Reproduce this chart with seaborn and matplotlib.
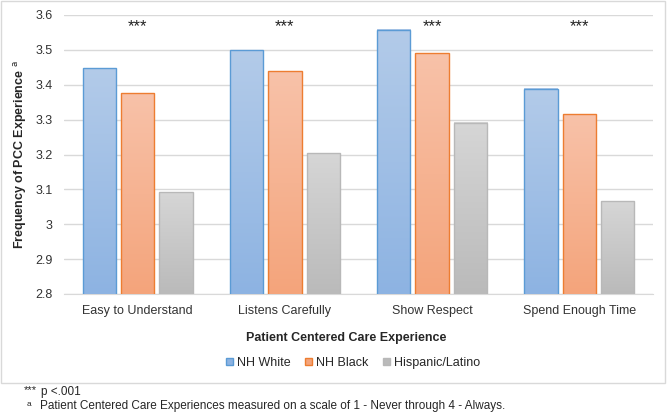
import numpy as np
import pandas as pd
import matplotlib
matplotlib.use("Agg")
import matplotlib.pyplot as plt
import seaborn as sns
from matplotlib.colors import LinearSegmentedColormap
from matplotlib.patches import Rectangle

# data
categories = ["Easy to Understand", "Listens Carefully", "Show Respect", "Spend Enough Time"]
groups = ["NH White", "NH Black", "Hispanic/Latino"]
nh_white = [3.447, 3.499, 3.558, 3.389]
nh_black = [3.375, 3.438, 3.490, 3.316]
hispanic = [3.092, 3.203, 3.291, 3.066]
stars = ["***", "***", "***", "***"]

df = pd.DataFrame({
    "Experience": categories * 3,
    "Group": [g for g in groups for _ in categories],
    "Score": nh_white + nh_black + hispanic,
})

# gradient (top, bottom) and edge colours per group
fills = {"NH White": ("#b3cbe9", "#8db3e2"),
         "NH Black": ("#f8c2a9", "#f4a47b"),
         "Hispanic/Latino": ("#d6d6d6", "#bababa")}
edges = {"NH White": "#5b9bd5", "NH Black": "#ed7d31", "Hispanic/Latino": "#b8b8b8"}

sns.set_style("white")
plt.rcParams["font.family"] = ["Liberation Sans", "DejaVu Sans"]

fig = plt.figure(figsize=(6.69, 4.16), dpi=100)
ax = fig.add_axes([64 / 669, 1 - 294 / 416, 589 / 669, 279 / 416])

sns.barplot(data=df, x="Experience", y="Score", hue="Group", hue_order=groups,
            palette=[edges[g] for g in groups], width=0.78, gap=0.13,
            ax=ax, legend=False)

ymin, ymax = 2.8, 3.6
ax.set_yticks(np.arange(2.8, 3.61, 0.1))
ax.set_yticklabels(["2.8", "2.9", "3", "3.1", "3.2", "3.3", "3.4", "3.5", "3.6"])

# paint each bar with a vertical gradient over its visible part
for container, g in zip(ax.containers, groups):
    cmap = LinearSegmentedColormap.from_list(g, [fills[g][1], fills[g][0]])
    for bar in container:
        x0, w = bar.get_x(), bar.get_width()
        top = bar.get_y() + bar.get_height()
        bar.set_facecolor("none")
        bar.set_edgecolor(edges[g])
        bar.set_linewidth(1.0)
        bar.set_zorder(4)
        grad = np.linspace(0, 1, 256).reshape(-1, 1)
        ax.imshow(grad, cmap=cmap, aspect="auto", origin="lower",
                  extent=[x0, x0 + w, ymin, top], zorder=3)

ax.set_xlim(-0.5, 3.5)
ax.set_ylim(ymin, ymax)

ax.yaxis.grid(True, color="#d9d9d9", linewidth=1)
ax.set_axisbelow(True)
for s in ["top", "right", "left"]:
    ax.spines[s].set_visible(False)
ax.spines["bottom"].set_color("#d9d9d9")
ax.tick_params(axis="both", length=0, labelsize=9, colors="#333333", pad=8)

for i, s in enumerate(stars):
    ax.text(i, 3.567, s, ha="center", va="center", fontsize=12, color="#222222")

ax.set_xlabel("")
fig.text(346 / 669, 1 - 338 / 416, "Patient Centered Care Experience", fontsize=9,
         fontweight="bold", ha="center", va="center")
ax.set_ylabel("Frequency of PCC Experience $^{\\mathrm{a}}$", fontsize=9,
              fontweight="bold", labelpad=5)

handles = [Rectangle((0, 0), 1, 1, facecolor=fills[g][1], edgecolor=edges[g]) for g in groups]
fig.legend(handles, groups, loc="center", bbox_to_anchor=(353 / 669, 1 - 363 / 416),
           ncol=3, frameon=False, fontsize=9, handlelength=0.55, handleheight=0.55,
           handletextpad=0.3, columnspacing=1.2)

# outer chart border
fig.patches.append(Rectangle((1 / 669, 1 - 383 / 416), 664 / 669, 382 / 416,
                             transform=fig.transFigure, fill=False,
                             edgecolor="#d9d9d9", linewidth=1))

# footnotes
fig.text(24 / 669, 1 - 390 / 416, "***", fontsize=8, va="center")
fig.text(41 / 669, 1 - 392 / 416, "p <.001", fontsize=8.5, va="center")
fig.text(27 / 669, 1 - 404 / 416, "a", fontsize=6, va="center")
fig.text(40 / 669, 1 - 406 / 416,
         "Patient Centered Care Experiences measured on a scale of 1 - Never through 4 - Always.",
         fontsize=8.5, va="center")

fig.savefig("out.png", dpi=100, facecolor="white")
